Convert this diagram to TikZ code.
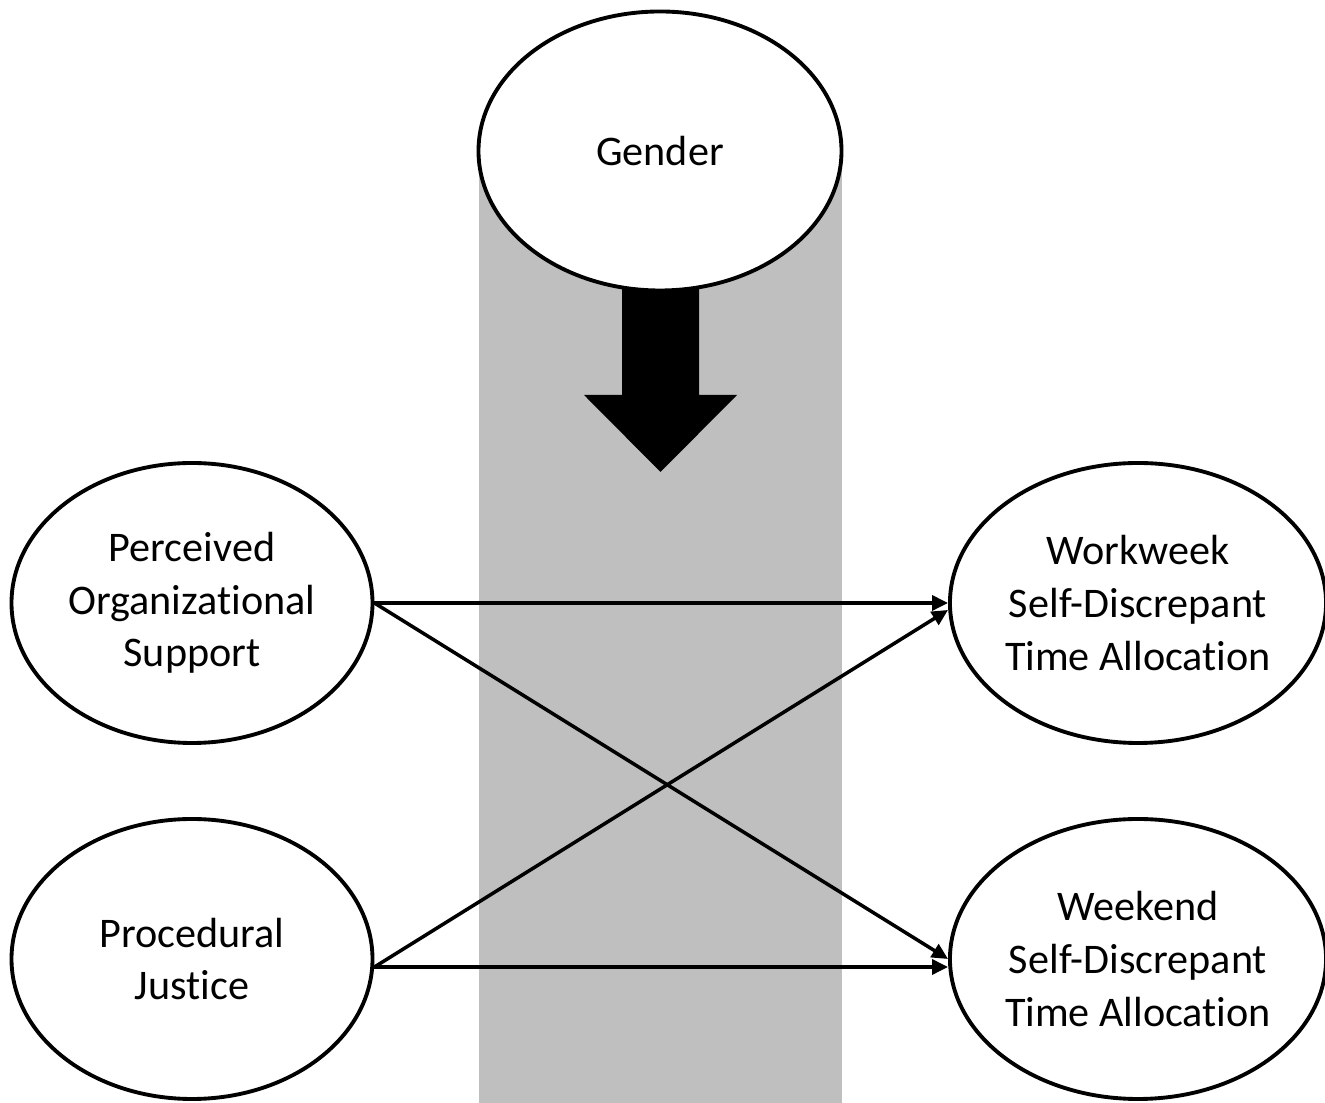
\documentclass[tikz,border=0pt]{standalone}
\usepackage{fontspec}
\setmainfont[Ligatures=NoCommon]{Carlito}
\usepackage{xcolor}
\usetikzlibrary{shapes,arrows,positioning,calc,arrows.meta}
\definecolor{bandgray}{RGB}{191,191,191}

\begin{document}
\begin{tikzpicture}[
    construct/.style={ellipse, draw, line width=2.2pt, fill=white,
        minimum width=7.22cm, minimum height=5.6cm, inner sep=0pt,
        align=center, font=\fontsize{24}{30}\selectfont},
    path/.style={line width=2pt, -{Triangle[length=0.32cm,width=0.3cm]}}
]
    \useasboundingbox (0,0) rectangle (26.5,22.06);

    % Moderator band
    \fill[bandgray] (9.58,0) rectangle (16.84,19.04);
    \fill[black] (12.44,19.04) -- (13.98,19.04) -- (13.98,14.16) -- (14.74,14.16)
        -- (13.21,12.62) -- (11.68,14.16) -- (12.44,14.16) -- cycle;
    \node[construct, minimum width=7.26cm, minimum height=5.58cm] (gender) at (13.2,19.04) {Gender};

    % Predictors
    \node[construct] (pos) at (3.84,10.0) {Perceived\\Organizational\\Support};
    \node[construct] (pj) at (3.84,2.88) {Procedural\\Justice};

    % Outcomes
    \node[construct] (workweek) at (22.76,10.0) {Workweek\\Self-Discrepant\\Time Allocation};
    \node[construct] (weekend) at (22.76,2.88) {Weekend\\Self-Discrepant\\Time Allocation};

    % Paths
    \draw[path] (pos.east) -- (workweek.west);
    \draw[path] (pos.east) -- (weekend.west);
    \draw[path] ([yshift=-0.16cm]pj.east) -- ([yshift=-0.14cm]workweek.west);
    \draw[path] ([yshift=-0.16cm]pj.east) -- ([yshift=-0.16cm]weekend.west);
\end{tikzpicture}
\end{document}
